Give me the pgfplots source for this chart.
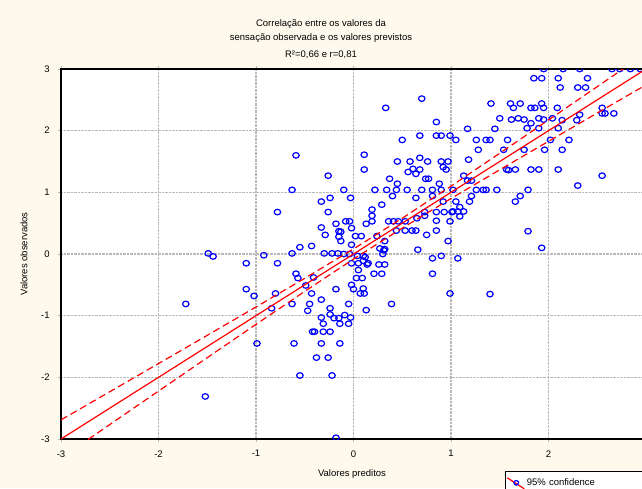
\documentclass[border=0pt]{standalone}
\usepackage{pgfplots}
\pgfplotsset{compat=1.18}
\usepackage{fontspec}
\setmainfont{Liberation Sans}
\definecolor{bgc}{RGB}{253,249,236}
\definecolor{gridc}{RGB}{185,185,185}
\pgfplotstableread{
x y
-1.49 0.01
-1.44 -0.04
-0.92 -0.02
-1.10 -0.15
-0.78 -0.15
-1.10 -0.57
-1.02 -0.68
-0.80 -0.64
-1.72 -0.81
-0.84 -0.88
-0.99 -1.45
-1.52 -2.31
-0.78 0.68
-0.63 0.01
-0.59 -0.32
-0.57 -0.39
-0.41 -0.38
-0.49 -0.51
-0.18 -0.57
-0.43 -0.64
-0.33 -0.74
-0.63 -0.81
-0.45 -0.81
-0.47 -0.92
-0.24 -0.88
-0.24 -0.98
-0.33 -1.03
-0.20 -1.04
-0.15 -1.04
-0.31 -1.13
-0.14 -1.13
-0.05 -1.13
-0.42 -1.26
-0.40 -1.26
-0.31 -1.26
-0.24 -1.26
-0.61 -1.45
-0.33 -1.45
-0.14 -1.45
-0.38 -1.68
-0.26 -1.68
-0.55 -1.97
-0.22 -1.97
-0.18 -2.98
-0.09 -0.99
-0.03 -1.03
-0.05 -0.81
-0.30 0.01
-0.22 0.01
-0.16 0.01
-0.59 1.60
-0.26 1.27
-0.63 1.04
-0.24 0.91
-0.33 0.85
-0.26 0.68
-0.18 0.49
-0.33 0.43
-0.29 0.31
-0.15 0.37
-0.15 0.28
-0.43 0.13
-0.55 0.11
-0.10 1.04
-0.08 0.53
-0.04 0.53
-0.13 0.36
-0.13 0.21
-0.10 0.00
-0.04 0.00
-0.03 0.91
-0.02 0.42
-0.02 0.15
0.02 0.29
0.08 0.29
0.24 0.29
0.04 -0.03
0.12 -0.05
-0.02 -0.15
0.05 -0.15
0.14 -0.17
0.26 -0.17
0.32 -0.17
0.05 -0.26
0.21 -0.32
0.29 -0.32
0.03 -0.39
0.09 -0.39
-0.02 -0.50
0.00 -0.57
0.10 -0.56
0.07 -0.64
0.11 -0.64
0.13 -0.91
0.39 -0.81
0.31 0.06
0.30 0.00
0.27 0.09
0.32 0.21
0.10 -0.03
0.10 -0.11
0.15 -0.15
0.11 1.61
0.11 1.37
0.33 2.37
0.70 2.52
0.85 2.14
0.50 1.85
0.68 1.92
0.85 1.92
0.90 1.92
0.99 1.92
1.05 1.85
0.45 1.50
0.58 1.50
0.68 1.56
0.76 1.50
0.90 1.50
0.97 1.50
0.92 1.41
0.95 1.37
0.56 1.33
0.61 1.38
0.68 1.37
0.64 1.30
0.37 1.22
0.45 1.14
0.74 1.22
0.77 1.22
0.88 1.14
0.22 1.04
0.34 1.04
0.44 1.04
0.55 1.04
0.70 1.04
0.81 1.04
0.90 1.04
1.02 1.04
0.40 0.94
0.81 0.94
0.64 0.91
0.92 0.85
0.19 0.72
0.29 0.80
0.19 0.62
0.73 0.68
0.85 0.68
0.93 0.68
1.01 0.68
0.13 0.49
0.19 0.53
0.36 0.53
0.41 0.53
0.46 0.53
0.53 0.53
0.65 0.58
0.73 0.62
0.85 0.54
0.99 0.53
0.44 0.38
0.53 0.38
0.60 0.38
0.64 0.38
0.75 0.31
0.85 0.38
0.97 0.21
0.32 0.08
0.66 0.07
0.90 -0.03
0.81 -0.07
1.07 -0.07
0.81 -0.32
0.99 -0.64
1.05 0.85
1.09 0.76
1.02 0.69
1.07 0.69
1.13 0.69
1.09 0.61
1.17 2.03
1.45 2.03
1.26 1.85
1.36 1.85
1.40 1.85
1.58 1.85
2.02 1.85
2.21 1.85
1.28 1.69
1.54 1.69
1.75 1.69
1.96 1.69
2.14 1.69
1.18 1.53
1.13 1.27
1.57 1.37
1.66 1.37
1.82 1.37
1.90 1.37
2.10 1.37
2.55 1.27
2.30 1.11
1.17 1.19
1.21 1.19
1.26 1.04
1.33 1.04
1.36 1.04
1.47 1.04
1.21 0.94
1.19 0.85
1.66 0.85
1.71 0.94
1.79 1.04
1.79 0.37
1.93 0.10
1.40 -0.65
1.85 2.85
1.93 2.85
2.10 2.85
2.12 2.70
2.30 2.70
2.38 2.70
2.40 2.85
1.95 3.00
2.15 3.00
2.32 3.00
2.65 3.00
2.73 3.00
2.84 3.00
2.94 3.00
1.41 2.44
1.61 2.44
1.64 2.37
1.71 2.44
1.82 2.37
1.86 2.37
1.93 2.44
1.95 2.37
2.09 2.37
1.50 2.20
1.62 2.18
1.69 2.20
1.75 2.18
1.82 2.12
1.90 2.20
1.95 2.18
2.04 2.20
2.14 2.17
1.78 2.04
1.90 2.04
2.10 2.04
2.55 2.37
2.55 2.28
2.58 2.28
2.67 2.28
2.32 2.26
2.29 2.17
1.59 1.36
}\pts
\pgfplotstableread{
x fit upper lower
-3.0 -3.0 -2.690 -3.310
-2.5 -2.5 -2.234 -2.766
-2.0 -2.0 -1.777 -2.223
-1.5 -1.5 -1.319 -1.681
-1.0 -1.0 -0.859 -1.141
-0.5 -0.5 -0.394 -0.606
0.0 0.0 0.082 -0.082
0.5 0.5 0.580 0.420
1.0 1.0 1.100 0.900
1.5 1.5 1.634 1.366
2.0 2.0 2.173 1.827
2.5 2.5 2.714 2.286
3.0 3.0 3.257 2.743
}\band
\begin{document}
\fontsize{9.5}{11.5}\selectfont
\begin{tikzpicture}[x=1pt,y=1pt]
\fill[bgc] (0,0) rectangle (642,488);
\begin{axis}[
  at={(61pt,49pt)}, anchor=south west,
  scale only axis, width=585pt, height=370pt,
  xmin=-3, xmax=3, ymin=-3, ymax=3,
  xtick={-3,-2,-1,0,1,2,3}, ytick={-3,-2,-1,0,1,2,3},
  xticklabels={-3,-2,-1,0,1,2,3}, yticklabels={-3,-2,-1,0,1,2,3},
  axis background/.style={fill=white},
  grid=major, major grid style={gridc, densely dotted, line width=1.1pt},
  axis line style={line width=2pt},
  tick style={gridc, line width=0.8pt}, tick align=outside, major tick length=3pt,
  every tick label/.append style={font=\fontsize{9.5}{11}\selectfont},
  xticklabel style={yshift=-5pt}, yticklabel style={xshift=-5pt},
  clip marker paths=true,
  legend style={at={(0.759,-0.0865)}, anchor=north west, draw=black, line width=1.3pt,
    fill=white, font=\fontsize{9.5}{11}\selectfont, inner xsep=1pt, inner ysep=5pt,
    nodes={text width=130pt, align=left}},
  legend cell align=left,
]
\addplot[only marks, mark=o, blue, mark size=2.8pt, line width=1.2pt,
  mark options={xscale=1.15},
  legend image code/.code={
    \draw[red, line width=1.2pt] (0pt,5pt) -- (17pt,-6pt);
    \draw[blue, line width=1.2pt] (9pt,0pt) circle (2.3pt);
  }] table[x=x,y=y] {\pts};
\addlegendentry{95\% confidence}
\addplot[red, line width=1.2pt, forget plot] table[x=x,y=fit] {\band};
\addplot[red, line width=1.2pt, dash pattern=on 7pt off 4pt, forget plot] table[x=x,y=upper] {\band};
\addplot[red, line width=1.2pt, dash pattern=on 7pt off 4pt, forget plot] table[x=x,y=lower] {\band};
\end{axis}
\node at (321,464) {Correlação entre os valores da};
\node at (321,449.5) {sensação observada e os valores previstos};
\node at (321,433) {R²=0,66 e r=0,81};
\node at (352,14) {Valores preditos};
\node[rotate=90] at (24,234) {Valores observados};
\pgfresetboundingbox
\useasboundingbox (0,0) rectangle (642,488);
\end{tikzpicture}
\end{document}
